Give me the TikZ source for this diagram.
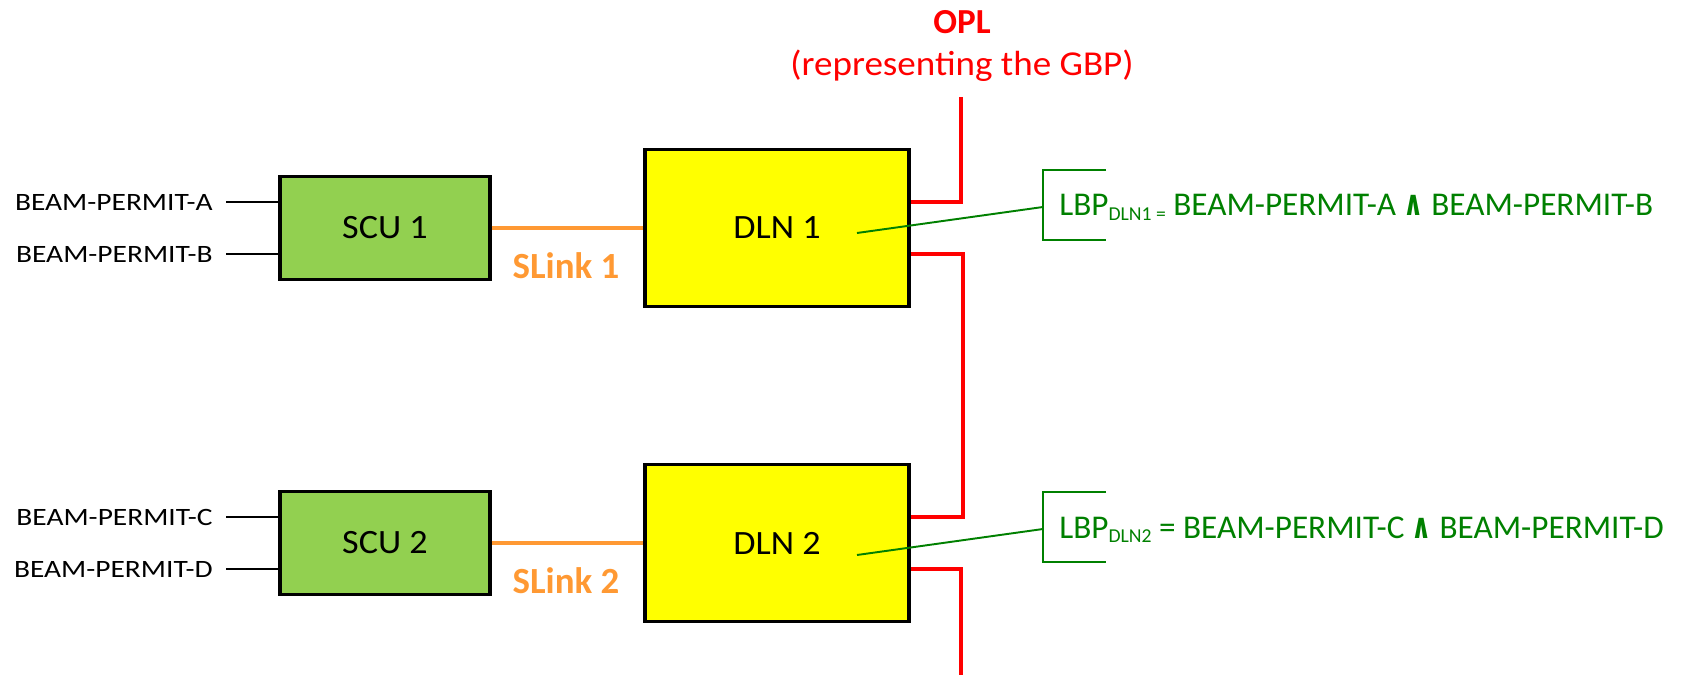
\documentclass[tikz,border=0pt]{standalone}
\usepackage{fontspec}
\setmainfont{Carlito}
\newfontfamily\labelfont{Carlito}[FakeStretch=1.18]
\newfontfamily\unitfont{Carlito}[FakeStretch=1.06]
\newfontfamily\symbolfont{DejaVu Sans}
\usetikzlibrary{calc}
\definecolor{scugreen}{HTML}{92D050}
\definecolor{dlnyellow}{HTML}{FFFF00}
\definecolor{slinkorange}{HTML}{FF9933}
\definecolor{oplred}{HTML}{FF0000}
\definecolor{lbpgreen}{HTML}{008000}
\newcommand{\lbpsub}[1]{\raisebox{-2.8pt}{\fontsize{11.2}{12}\selectfont #1}}
\newcommand{\lbpand}{\scalebox{0.75}[1.05]{\symbolfont\bfseries ∧}}
\tikzset{
    unit/.style = {draw, rectangle, line width=1.9pt, text centered, font=\unitfont\fontsize{19.4}{22}\selectfont},
    scu/.style = {unit, fill=scugreen, minimum width=4.2cm, minimum height=2.05cm},
    dln/.style = {unit, fill=dlnyellow, minimum width=5.28cm, minimum height=3.14cm},
    opl/.style = {draw=oplred, line width=2.3pt, line join=miter}
}

\begin{document}
\begin{tikzpicture}[
    x=0.02cm, y=-0.02cm,
    lbl/.style={anchor=east, inner xsep=7.4pt, font=\labelfont\fontsize{14.2}{16}\selectfont},
    linklbl/.style={text=slinkorange, font=\bfseries\fontsize{21}{24}\selectfont},
    lbp/.style={anchor=base west, inner xsep=9.1pt, text=lbpgreen, font=\fontsize{18.9}{22}\selectfont},
    wire/.style={line width=1.3pt},
    slink/.style={draw=slinkorange, line width=2.4pt},
    tap/.style={draw=lbpgreen, line width=1.1pt},
    bracket/.style={draw=lbpgreen, line width=1.5pt}
]
    \useasboundingbox (0,0) rectangle (1690,675);

    % OPL header
    \node[text=oplred, font=\bfseries\fontsize{20}{24}\selectfont] (opl) at (962,22) {OPL};
    \node[text=oplred, font=\unitfont\fontsize{19.9}{24}\selectfont] (gbp) at (962,66) {(representing the GBP)};

    % Units
    \node[scu] (scu1) at (385,228) {SCU 1};
    \node[scu] (scu2) at (385,543) {SCU 2};
    \node[dln] (dln1) at (777,228) {DLN 1};
    \node[dln] (dln2) at (777,543) {DLN 2};

    % Beam permit inputs
    \node[lbl] (bpA) at (226,202) {BEAM-PERMIT-A};
    \node[lbl] (bpB) at (226,254) {BEAM-PERMIT-B};
    \node[lbl] (bpC) at (226,517) {BEAM-PERMIT-C};
    \node[lbl] (bpD) at (226,569) {BEAM-PERMIT-D};
    \foreach \p/\s in {A/scu1, B/scu1, C/scu2, D/scu2}
        \draw[wire] (bp\p.east) -- (bp\p.east -| \s.west);

    % SLinks
    \draw[slink] (scu1.east) -- (dln1.west);
    \draw[slink] (scu2.east) -- (dln2.west);
    \node[linklbl] (sl1) at (566,266) {SLink 1};
    \node[linklbl] (sl2) at (566,581) {SLink 2};

    % OPL bus
    \coordinate (bustop) at (961,97);
    \coordinate (busend) at (961,675);
    \draw[opl] (bustop) |- ($(dln1.east)+(0,-26)$);
    \draw[opl] ($(dln1.east)+(0,26)$) -| ($(dln2.east)+(52,-26)$) -- ($(dln2.east)+(0,-26)$);
    \draw[opl] ($(dln2.east)+(0,26)$) -| (busend);

    % Local beam permits
    \coordinate (tap1) at (857,233);
    \coordinate (tap2) at (857,555);
    \node[lbp] (lbp1) at (1043,216) {LBP\lbpsub{DLN1 =} BEAM-PERMIT-A \lbpand{} BEAM-PERMIT-B};
    \node[lbp] (lbp2) at (1043,538) {LBP\lbpsub{DLN2} = BEAM-PERMIT-C \lbpand{} BEAM-PERMIT-D};
    \foreach \n in {1,2} {
        \draw[bracket] ($(lbp\n.base west)+(63,-46)$) -| ($(lbp\n.base west)+(0,24)$) -- ++(63,0);
        \draw[tap] (tap\n) -- ($(lbp\n.base west)+(0,-9)$);
    }

\end{tikzpicture}
\end{document}
